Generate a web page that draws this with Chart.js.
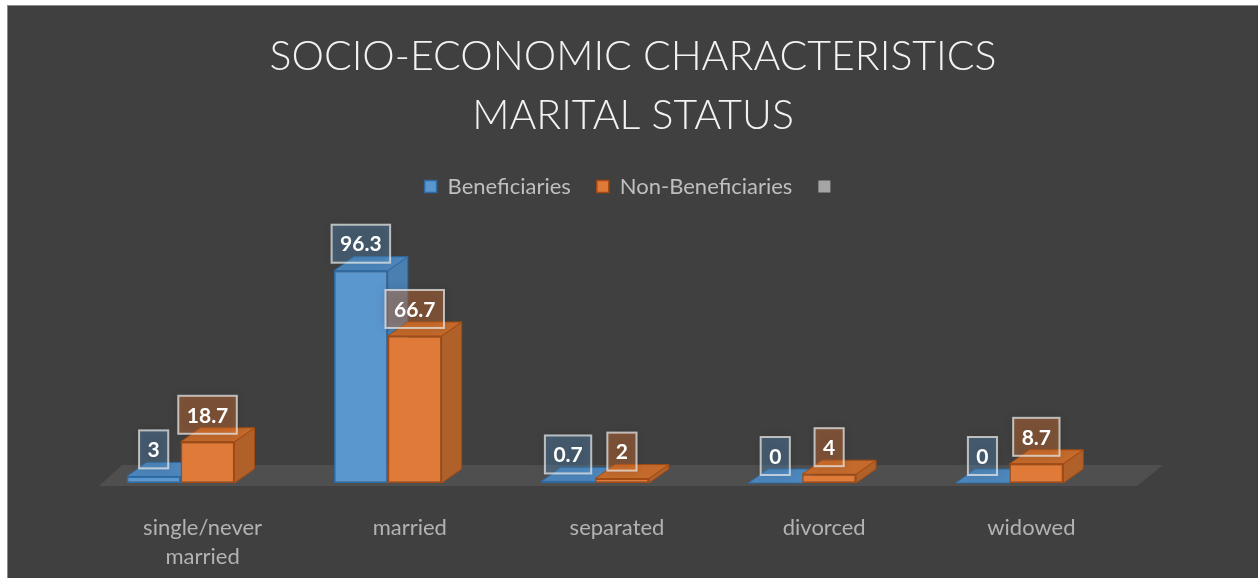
<!DOCTYPE html>
<html lang="en">
<head>
    <meta charset="UTF-8">
    <title>Marital Status</title>
    <script src="https://cdn.jsdelivr.net/npm/chart.js"></script>
    <style>
        html, body { margin: 0; padding: 0; background: #fff; overflow: hidden; }
        #frame {
            position: absolute; left: 7px; top: 5px;
            width: 1250px; height: 572px;
            background: #404040;
            border-left: 1px solid #8c8c8c; border-top: 1px solid #8c8c8c;
        }
    </style>
</head>
<body>
    <div id="frame"><canvas id="maritalChart"></canvas></div>

    <script>
        const titleLines = ['SOCIO-ECONOMIC CHARACTERISTICS', 'MARITAL STATUS'];
        const categories = [['single/never', 'married'], 'married', 'separated', 'divorced', 'widowed'];
        const seriesNames = ['Beneficiaries', 'Non-Beneficiaries'];
        const beneficiaries = [3, 96.3, 0.7, 0, 0];
        const nonBeneficiaries = [18.7, 66.7, 2, 4, 8.7];

        const FONT = 'Lato, "Open Sans", sans-serif';
        const DX = 20, DY = 14;   // depth of the 3d boxes

        // face colours for each series: front, border, side, top, label box
        const looks = [
            { front: '#5b97cf', border: '#2f6aa0', side: '#4a7fb1', top: '#4d86bc', box: 'rgba(91,155,213,0.32)' },
            { front: '#e07a38', border: '#a24a12', side: '#b0612a', top: '#c46a2c', box: 'rgba(237,125,49,0.36)' }
        ];

        const boxes3d = {
            id: 'boxes3d',
            beforeDatasetsDraw(chart) {
                const ctx = chart.ctx;
                const area = chart.chartArea;
                const base = chart.scales.y.getPixelForValue(0);
                // floor
                ctx.save();
                ctx.fillStyle = '#4f4f4f';
                ctx.beginPath();
                ctx.moveTo(area.left + 22, base + 3);
                ctx.lineTo(area.right + 24, base + 3);
                ctx.lineTo(area.right + 50, base - 18);
                ctx.lineTo(area.left + 45, base - 18);
                ctx.closePath();
                ctx.fill();
                // side and top faces
                chart.data.datasets.forEach((ds, i) => {
                    const lk = looks[i];
                    chart.getDatasetMeta(i).data.forEach(bar => {
                        const l = bar.x - bar.width / 2, r = bar.x + bar.width / 2;
                        const t = bar.y, b = bar.base;
                        ctx.lineWidth = 1;
                        ctx.strokeStyle = lk.border;
                        ctx.fillStyle = lk.side;
                        ctx.beginPath();
                        ctx.moveTo(r, t); ctx.lineTo(r + DX, t - DY);
                        ctx.lineTo(r + DX, b - DY); ctx.lineTo(r, b);
                        ctx.closePath(); ctx.fill(); ctx.stroke();
                        ctx.fillStyle = lk.top;
                        ctx.beginPath();
                        ctx.moveTo(l, t); ctx.lineTo(r, t);
                        ctx.lineTo(r + DX, t - DY); ctx.lineTo(l + DX, t - DY);
                        ctx.closePath(); ctx.fill(); ctx.stroke();
                    });
                });
                ctx.restore();
            },
            afterDatasetsDraw(chart) {
                const ctx = chart.ctx;
                ctx.save();
                ctx.font = 'bold 21px ' + FONT;
                ctx.textAlign = 'center';
                ctx.textBaseline = 'middle';
                chart.data.datasets.forEach((ds, i) => {
                    chart.getDatasetMeta(i).data.forEach((bar, j) => {
                        const txt = String(ds.data[j]);
                        const w = ctx.measureText(txt).width + 17;
                        const h = 38;
                        const bottom = bar.y - 8;
                        const left = bar.x - w / 2;
                        ctx.shadowColor = 'rgba(0,0,0,0.45)';
                        ctx.shadowBlur = 10;
                        ctx.fillStyle = looks[i].box;
                        ctx.fillRect(left, bottom - h, w, h);
                        ctx.shadowBlur = 0;
                        ctx.shadowColor = 'transparent';
                        ctx.lineWidth = 2;
                        ctx.strokeStyle = 'rgba(230,230,230,0.75)';
                        ctx.strokeRect(left, bottom - h, w, h);
                        ctx.fillStyle = '#ffffff';
                        ctx.fillText(txt, bar.x, bottom - h / 2 + 1);
                    });
                });
                ctx.restore();
            }
        };

        const ctx = document.getElementById('maritalChart').getContext('2d');
        new Chart(ctx, {
            type: 'bar',
            data: {
                labels: categories,
                datasets: [
                    {
                        label: seriesNames[0],
                        data: beneficiaries,
                        backgroundColor: looks[0].front,
                        borderColor: looks[0].border,
                        borderWidth: 1.5,
                        borderSkipped: false
                    },
                    {
                        label: seriesNames[1],
                        data: nonBeneficiaries,
                        backgroundColor: looks[1].front,
                        borderColor: looks[1].border,
                        borderWidth: 1.5,
                        borderSkipped: false
                    }
                ]
            },
            options: {
                responsive: true,
                maintainAspectRatio: false,
                animation: false,
                layout: { padding: { top: 0, left: 69, right: 69, bottom: 0 } },
                categoryPercentage: 0.52,
                barPercentage: 1.0,
                plugins: {
                    tooltip: { enabled: false },
                    title: {
                        display: true,
                        text: titleLines,
                        color: '#f2f2f2',
                        font: { family: FONT, size: 41, weight: '300', lineHeight: 1.42 },
                        padding: { top: 22, bottom: 5 }
                    },
                    legend: {
                        display: true,
                        position: 'top',
                        labels: {
                            color: '#bfbfbf',
                            font: { family: FONT, size: 22 },
                            boxWidth: 12,
                            boxHeight: 12,
                            padding: 26,
                            generateLabels(chart) {
                                const items = Chart.defaults.plugins.legend.labels.generateLabels(chart);
                                items.push({ text: '', fillStyle: '#a5a5a5', strokeStyle: '#a5a5a5', lineWidth: 0, hidden: false, datasetIndex: -1 });
                                return items;
                            }
                        }
                    }
                },
                scales: {
                    x: {
                        grid: { display: false },
                        border: { display: false },
                        ticks: {
                            color: '#b3b3b3',
                            font: { family: FONT, size: 22, lineHeight: 1.32 },
                            padding: 22,
                            labelOffset: 22,
                            maxRotation: 0,
                            autoSkip: false
                        },
                        afterFit(scale) { scale.height = 95; }
                    },
                    y: {
                        display: true,
                        position: 'right',
                        min: 0,
                        max: 125,
                        grid: { display: false },
                        border: { display: false },
                        ticks: { display: false },
                        afterFit(scale) { scale.width = 76; }
                    }
                }
            },
            plugins: [boxes3d]
        });
    </script>
</body>
</html>
